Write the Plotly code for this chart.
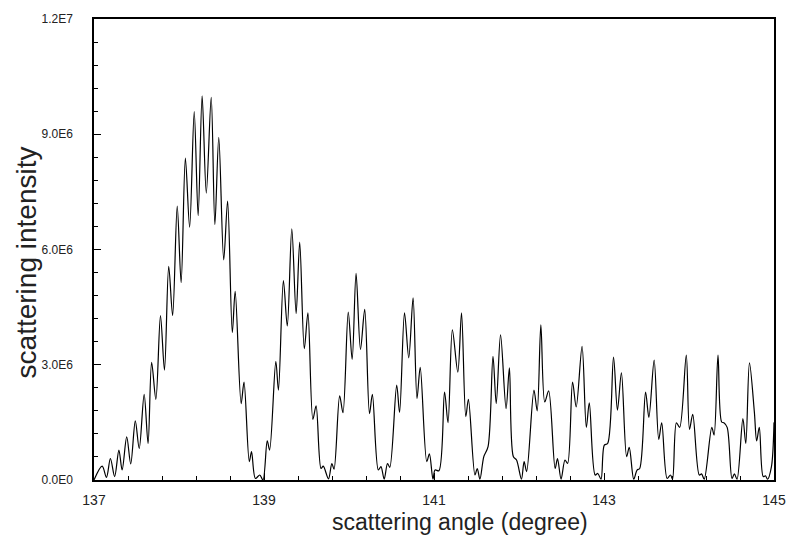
import plotly.graph_objects as go

# Scattering angle (degree) at the turning points of the measured curve
angle = [
    137.000, 137.096, 137.147, 137.193, 137.243, 137.293, 137.331, 137.385, 137.432, 137.486,
    137.532, 137.590, 137.636, 137.678, 137.728, 137.782, 137.829, 137.879, 137.925, 137.979,
    138.025, 138.075, 138.125, 138.179, 138.225, 138.272, 138.321, 138.379, 138.422, 138.468,
    138.526, 138.572, 138.627, 138.661, 138.731, 138.765, 138.827, 138.853, 138.899, 138.950,
    138.988, 139.038, 139.066, 139.139, 139.170, 139.228, 139.274, 139.327, 139.378, 139.420,
    139.474, 139.517, 139.575, 139.613, 139.671, 139.697, 139.759, 139.798, 139.824, 139.890,
    139.929, 139.991, 140.037, 140.083, 140.135, 140.185, 140.241, 140.275, 140.345, 140.376,
    140.414, 140.453, 140.480, 140.561, 140.595, 140.653, 140.703, 140.754, 140.800, 140.838,
    140.915, 140.946, 140.988, 141.012, 141.058, 141.124, 141.165, 141.216, 141.280, 141.324,
    141.374, 141.405, 141.482, 141.509, 141.540, 141.586, 141.636, 141.694, 141.732, 141.783,
    141.848, 141.887, 141.933, 141.971, 142.029, 142.060, 142.090, 142.176, 142.214, 142.257,
    142.303, 142.349, 142.425, 142.453, 142.495, 142.541, 142.572, 142.630, 142.673, 142.742,
    142.792, 142.827, 142.896, 142.927, 142.965, 143.004, 143.043, 143.112, 143.158, 143.205,
    143.266, 143.297, 143.350, 143.389, 143.420, 143.489, 143.528, 143.590, 143.644, 143.679,
    143.743, 143.782, 143.806, 143.852, 143.890, 143.968, 144.006, 144.044, 144.121, 144.148,
    144.179, 144.268, 144.295, 144.341, 144.384, 144.410, 144.449, 144.506, 144.534, 144.565,
    144.634, 144.668, 144.711, 144.769, 144.796, 144.827, 144.873, 144.900, 144.923, 144.970,
    145.000,
]

# Scattering intensity at those angles, in units of 1E6
intensity_e6 = [
    0.00, 0.36, 0.07, 0.56, 0.09, 0.78, 0.26, 1.12, 0.42, 1.54,
    0.82, 2.23, 0.95, 3.06, 2.10, 4.28, 2.86, 5.56, 4.28, 7.13,
    5.14, 8.38, 6.58, 9.59, 6.88, 10.00, 7.47, 9.96, 6.65, 8.92,
    5.73, 7.26, 3.84, 4.91, 1.99, 2.55, 0.48, 0.74, 0.04, 0.13,
    0.00, 1.02, 0.78, 3.09, 2.34, 5.19, 4.01, 6.54, 4.33, 6.19,
    3.42, 4.35, 1.58, 1.93, 0.30, 0.36, 0.03, 0.43, 0.28, 2.19,
    1.75, 4.37, 3.14, 5.38, 3.40, 4.44, 1.73, 2.23, 0.26, 0.35,
    0.02, 0.43, 0.33, 2.47, 1.76, 4.35, 3.18, 4.74, 2.12, 2.93,
    0.48, 0.68, 0.02, 0.26, 0.24, 2.29, 1.49, 3.91, 2.81, 4.35,
    1.65, 2.10, 0.13, 0.30, 0.02, 0.61, 0.87, 3.22, 1.99, 3.78,
    1.86, 2.92, 0.61, 0.52, 0.02, 0.48, 0.22, 2.34, 1.80, 4.04,
    2.03, 2.32, 0.30, 0.56, 0.02, 0.52, 0.43, 2.55, 1.90, 3.48,
    1.37, 2.01, 0.13, 0.17, 0.02, 0.91, 0.95, 3.20, 1.82, 2.79,
    0.61, 0.85, 0.02, 0.26, 0.30, 2.29, 1.63, 3.12, 1.06, 1.49,
    0.04, 0.13, 0.02, 1.49, 1.37, 3.25, 1.32, 1.71, 0.13, 0.16,
    0.02, 1.37, 1.17, 3.25, 1.51, 1.49, 1.37, 0.04, 0.16, 0.02,
    1.60, 0.95, 3.05, 1.77, 1.02, 1.37, 0.09, 0.11, 0.02, 0.35,
    1.50,
]
intensity = [v * 1e6 for v in intensity_e6]

y_tickvals = [0, 3e6, 6e6, 9e6, 1.2e7]
y_ticktext = ["0.0E0", "3.0E6", "6.0E6", "9.0E6", "1.2E7"]
x_tickvals = [137, 139, 141, 143, 145]

FONT = "Liberation Sans, Arial, sans-serif"
TEXT = "#222"

fig = go.Figure(
    go.Scatter(
        x=angle,
        y=intensity,
        mode="lines",
        line=dict(color="black", width=1.2, shape="spline", smoothing=0.9),
        showlegend=False,
        hoverinfo="skip",
    )
)

fig.update_layout(
    width=798,
    height=539,
    margin=dict(l=94, r=12, t=18, b=59),
    paper_bgcolor="white",
    plot_bgcolor="white",
    font=dict(family=FONT, color=TEXT),
)

fig.update_xaxes(
    range=[137, 145],
    tickmode="array",
    tickvals=x_tickvals,
    ticktext=[str(v) for v in x_tickvals],
    ticks="inside",
    ticklen=7,
    tickwidth=1,
    tickcolor="black",
    minor=dict(tickmode="linear", tick0=137, dtick=0.4, ticks="inside", ticklen=4, tickcolor="black"),
    showline=True,
    linecolor="black",
    linewidth=1.5,
    mirror=True,
    showgrid=False,
    zeroline=False,
    tickfont=dict(size=14, family=FONT, color=TEXT),
    ticklabelstandoff=6,
)

fig.update_yaxes(
    range=[0, 1.2e7],
    tickmode="array",
    tickvals=y_tickvals,
    ticktext=y_ticktext,
    ticks="inside",
    ticklen=7,
    tickwidth=1,
    tickcolor="black",
    minor=dict(tickmode="linear", tick0=0, dtick=0.6e6, ticks="inside", ticklen=4, tickcolor="black"),
    showline=True,
    linecolor="black",
    linewidth=1.5,
    mirror=True,
    showgrid=False,
    zeroline=False,
    tickfont=dict(size=12, family=FONT, color=TEXT),
    ticklabelstandoff=17,
)

# Axis titles, placed in paper coordinates
fig.add_annotation(
    text="scattering angle (degree)",
    xref="paper", yref="paper", x=0.5376, y=-0.091,
    xanchor="center", yanchor="middle", showarrow=False,
    font=dict(size=23, family=FONT, color=TEXT),
)
fig.add_annotation(
    text="scattering intensity",
    xref="paper", yref="paper", x=-0.1, y=0.472,
    xanchor="center", yanchor="middle", textangle=-90, showarrow=False,
    font=dict(size=28, family=FONT, color=TEXT),
)

fig.write_html("out.html")
